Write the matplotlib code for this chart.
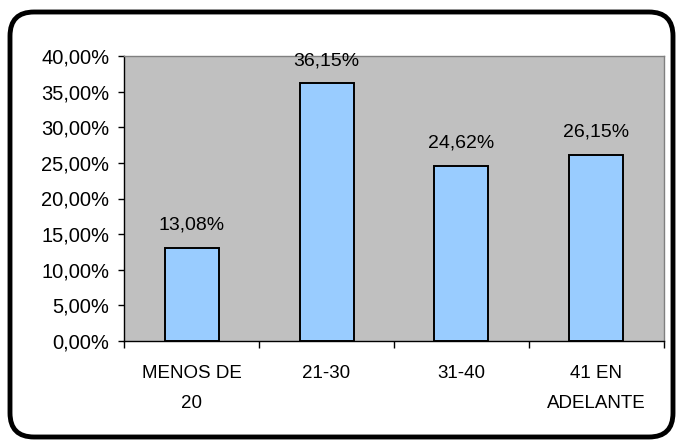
import matplotlib
matplotlib.use("Agg")
import matplotlib.pyplot as plt
from matplotlib.patches import FancyBboxPatch
from matplotlib.ticker import FuncFormatter, MultipleLocator

categorias = ["MENOS DE\n20", "21-30", "31-40", "41 EN\nADELANTE"]
porcentajes = [13.08, 36.15, 24.62, 26.15]

plt.rcParams['font.family'] = ['Liberation Sans', 'DejaVu Sans']

W, H = 676, 443
fig = plt.figure(figsize=(W / 100, H / 100), dpi=100)

# capa de fondo en píxeles para el marco redondeado
fondo = fig.add_axes([0, 0, 1, 1])
fondo.set_xlim(0, W)
fondo.set_ylim(0, H)
fondo.axis('off')
marco = FancyBboxPatch((10, 6), 663, 425,
                       boxstyle="round,pad=0,rounding_size=24",
                       facecolor='none', edgecolor='black', linewidth=3.5)
fondo.add_patch(marco)

ax = fig.add_axes([124 / W, 1 - 341 / H, 540 / W, 285 / H])

x = list(range(len(categorias)))
ax.bar(x, porcentajes, width=0.4, color='#99CCFF', edgecolor='black', linewidth=1.4, zorder=3)

for xi, v in zip(x, porcentajes):
    ax.annotate(f"{v:.2f}%".replace('.', ','), (xi, v), xytext=(0, 10),
                textcoords='offset points', ha='center', va='bottom', fontsize=14)

ax.set_facecolor('#C0C0C0')
ax.set_xlim(-0.5, len(categorias) - 0.5)
ax.set_ylim(0, 40)
ax.yaxis.set_major_locator(MultipleLocator(5))
ax.yaxis.set_major_formatter(FuncFormatter(lambda v, p: f"{v:.2f}%".replace('.', ',')))

ax.set_xticks([i - 0.5 for i in range(len(categorias) + 1)])
ax.set_xticklabels([])
ax.set_xticks(x, minor=True)
ax.set_xticklabels(categorias, minor=True, fontsize=13.5, linespacing=2.0)
ax.tick_params(axis='x', which='minor', length=0, pad=17)
ax.tick_params(axis='x', which='major', length=5, width=1)
ax.tick_params(axis='y', length=4.5, width=1, labelsize=14.5, pad=6)

for lado in ['top', 'right']:
    ax.spines[lado].set_color('#808080')
    ax.spines[lado].set_linewidth(1)
for lado in ['left', 'bottom']:
    ax.spines[lado].set_color('black')
    ax.spines[lado].set_linewidth(1)

fig.savefig("out.png", dpi=100)
